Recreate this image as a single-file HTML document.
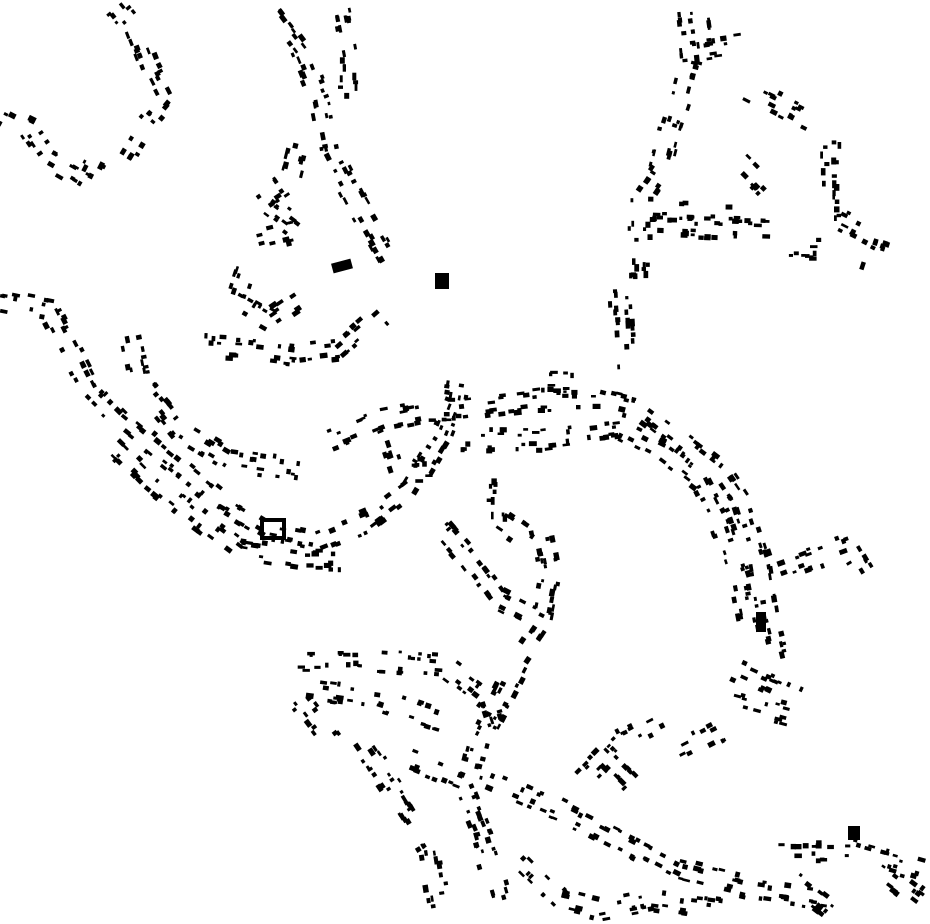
<!DOCTYPE html>
<html><head><meta charset="utf-8"><style>
html,body{margin:0;padding:0;background:#fff;width:930px;height:924px;overflow:hidden}
svg{display:block}
</style></head><body>
<svg id="m" width="930" height="924" viewBox="0 0 930 924" xmlns="http://www.w3.org/2000/svg">
<rect x="332" y="261" width="20" height="10" fill="#000" transform="rotate(-15 342 266)"/>
<rect x="435" y="273" width="14" height="16" fill="#000"/>
<rect x="262" y="520" width="22" height="18" fill="none" stroke="#000" stroke-width="4"/>
<rect x="848" y="826" width="12" height="14" fill="#000"/>
<rect x="756" y="612" width="10" height="20" fill="#000"/>
</svg>
<script>
var s=12345;function r(){s=(s*16807)%2147483647;return s/2147483647;}
var L=[
[[0,115],[30,130],[50,160],[85,180],[95,160]],
[[115,5],[135,30],[150,70],[165,100],[140,130],[125,155]],
[[270,10],[300,50],[320,100],[330,150],[355,200],[390,260]],
[[340,10],[350,60],[350,100]],
[[300,140],[290,180],[260,200],[300,230],[260,240]],
[[245,270],[235,300],[270,320],[300,300]],
[[190,345],[240,348],[300,355],[340,350],[380,315]],
[[685,10],[690,60],[680,100],[670,130],[660,170],[640,200],[640,280]],
[[700,15],[705,50],[740,45]],
[[650,210],[740,212]],[[650,225],[770,230]],
[[750,90],[810,120]],[[830,140],[830,220]],[[840,220],[880,240],[870,270]],
[[740,160],[770,190]],[[780,250],[820,250]],
[[0,300],[50,310],[70,350],[90,390],[120,420],[170,460],[220,500],[270,530],[320,540],[370,520],[410,490],[440,440],[455,400],[460,370]],
[[130,330],[140,380],[180,430],[230,460],[300,470]],
[[110,440],[150,480],[200,520],[240,550],[300,560],[350,560]],
[[330,440],[380,420],[430,410],[460,410],[540,400],[600,400],[640,410],[680,440],[720,470],[740,500],[760,560],[770,620],[780,660]],
[[460,440],[540,440],[620,430],[660,450],[700,480],[720,520],[740,580],[750,630]],
[[530,380],[575,380]],
[[620,290],[625,380]],
[[390,440],[400,470],[430,470]],
[[780,570],[850,545],[865,570]],
[[735,670],[800,700]],[[735,700],[790,715]],
[[435,520],[470,560],[500,600],[540,620],[550,570],[540,520]],
[[500,480],[500,520],[530,540]],
[[540,630],[520,660],[500,700],[480,740],[470,780]],
[[300,660],[360,660],[440,665]],
[[310,690],[380,700],[440,720]],
[[360,740],[400,800],[430,850],[440,910]],
[[410,760],[460,780],[480,830],[500,900]],
[[300,700],[330,740]],[[450,670],[490,700],[500,730]],
[[490,780],[560,810],[620,840],[680,870],[760,890],[830,900]],
[[580,780],[620,740],[660,720]],
[[600,750],[640,790]],[[680,750],[720,730]],
[[780,850],[850,850],[920,870]],
[[520,860],[560,900],[600,910],[650,900],[720,910]],
[[790,880],[830,910]],[[880,870],[920,900]]
];
var svg=document.getElementById('m'),h='';
L.forEach(function(p){
 for(var i=0;i<p.length-1;i++){
  var a=p[i],b=p[i+1],dx=b[0]-a[0],dy=b[1]-a[1],len=Math.hypot(dx,dy),ang=Math.atan2(dy,dx)*180/Math.PI;
  var n=Math.round(len*0.22);
  for(var k=0;k<n;k++){
   var t=r(),side=r()<0.5?-1:1,off=side*(3+r()*8);
   var x=a[0]+dx*t-dy/len*off,y=a[1]+dy*t+dx/len*off;
   var w=3+r()*5,hh=2.5+r()*3;
   h+='<rect x="'+(x-w/2).toFixed(1)+'" y="'+(y-hh/2).toFixed(1)+'" width="'+w.toFixed(1)+'" height="'+hh.toFixed(1)+'" transform="rotate('+ang.toFixed(0)+' '+x.toFixed(1)+' '+y.toFixed(1)+')"/>';
  }
 }
});
var g=document.createElementNS('http://www.w3.org/2000/svg','g');g.setAttribute('fill','#000');g.innerHTML=h;svg.appendChild(g);
</script>
</body></html>
